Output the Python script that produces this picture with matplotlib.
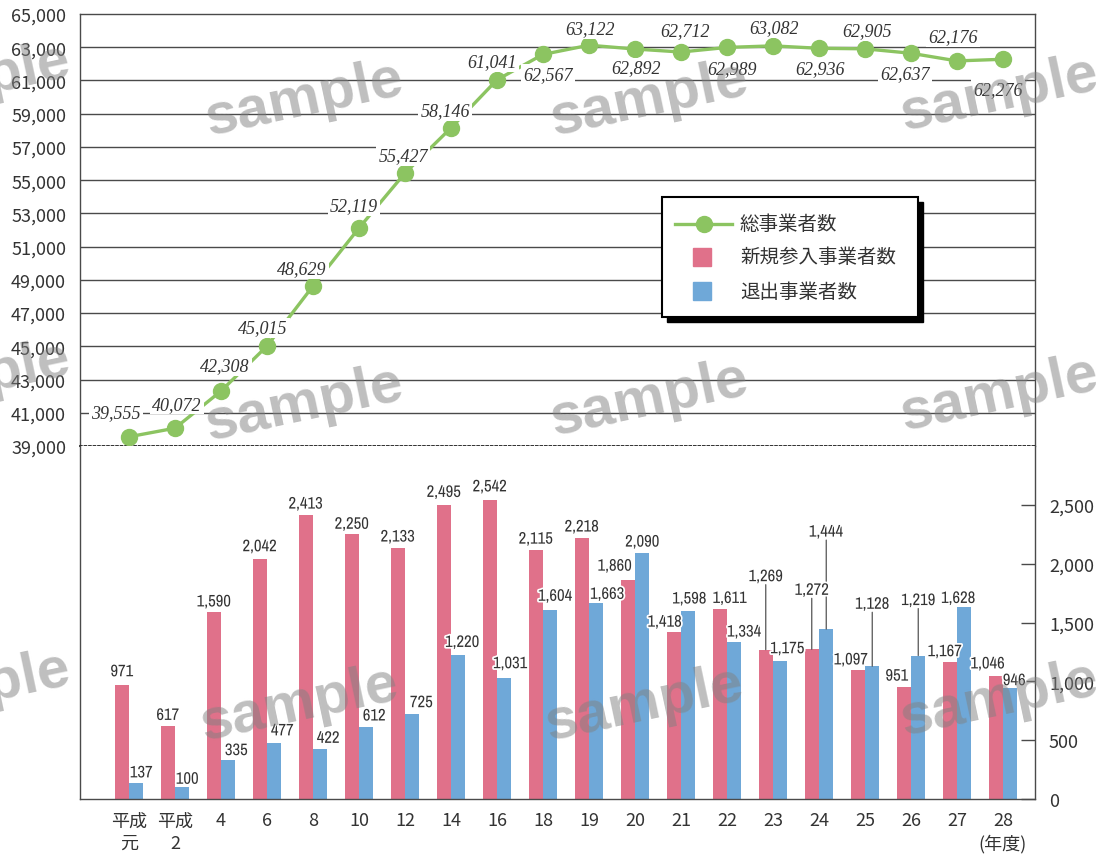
import matplotlib
matplotlib.use("Agg")
import matplotlib.pyplot as plt
import matplotlib.patches as mpatches
import matplotlib.lines as mlines
import matplotlib.patheffects as pe
from matplotlib import font_manager as fm

# ---- data ----
categories = ["平成\n元", "平成\n2", "4", "6", "8", "10", "12", "14", "16", "18",
              "19", "20", "21", "22", "23", "24", "25", "26", "27", "28\n(年度)"]
total_operators = [39555, 40072, 42308, 45015, 48629, 52119, 55427, 58146, 61041, 62567,
                   63122, 62892, 62712, 62989, 63082, 62936, 62905, 62637, 62176, 62276]
new_entrants = [971, 617, 1590, 2042, 2413, 2250, 2133, 2495, 2542, 2115,
                2218, 1860, 1418, 1611, 1269, 1272, 1097, 951, 1167, 1046]
exits = [137, 100, 335, 477, 422, 612, 725, 1220, 1031, 1604,
         1663, 2090, 1598, 1334, 1175, 1444, 1128, 1219, 1628, 946]

series_names = ["総事業者数", "新規参入事業者数", "退出事業者数"]
left_ticks = list(range(39000, 65001, 2000))
right_ticks = list(range(0, 2501, 500))

# ---- label placement (pixel offsets from each mark) ----
total_label_offsets = [(-13, 24), (2, 24), (4, 25), (-4, 18), (-11, 17), (-5, 22), (-2, 17),
                       (-6, 17), (-5, 18), (5, -20), (1, 17), (1, -19), (4, 21), (5, -21),
                       (1, 18), (1, -20), (2, 18), (-6, -20), (-4, 24), (-5, -30)]
new_label_offsets = [(0, 13), (0, 11), (0, 10), (0, 12), (0, 11), (0, 10), (0, 11), (0, 13),
                     (0, 13), (0, 11), (0, 11), (-13, 14), (-9, 10), (10, 11), (0, 73),
                     (0, 59), (-7, 10), (-7, 11), (-5, 10), (-8, 12)]
exit_label_offsets = [(5, 10), (5, 8), (8, 9), (8, 12), (8, 11), (8, 11), (9, 11), (4, 13),
                      (6, 14), (5, 14), (11, 9), (0, 11), (1, 12), (10, 10), (7, 12),
                      (0, 97), (0, 62), (0, 55), (-6, 9), (4, 7)]
new_leaders = {14, 15}
exit_leaders = {15, 16, 17}

# ---- style ----
W, H = 1096, 862
GREEN = "#8CC461"
RED = "#E0718A"
BLUE = "#6FA8D8"
AXIS = "#4a4a4a"
CJK = "Noto Sans CJK JP"
SERIF = "Liberation Serif"


def narrow_font():
    """Pick a condensed face for the bar value labels if one is installed."""
    for f in fm.fontManager.ttflist:
        name = f.name.lower()
        if ("narrow" in name or "condensed" in name) and f.style == "normal" \
                and f.weight in (400, "normal", "regular"):
            return fm.FontProperties(fname=f.fname, size=12)
    for f in fm.fontManager.ttflist:
        if f.stretch in ("condensed", "semi-condensed", "extra-condensed") \
                and f.style == "normal" and f.weight in (400, "normal", "regular"):
            return fm.FontProperties(fname=f.fname, size=12)
    return fm.FontProperties(family="Liberation Sans", size=10.5)


BAR_FONT = narrow_font()

plt.rcParams["font.family"] = [CJK, "DejaVu Sans"]

fig = plt.figure(figsize=(W / 100, H / 100), dpi=100)


def fx(px):
    return px / W


def fy(py):
    return 1 - py / H


left, right = 80, 1035
ax_top = fig.add_axes([fx(left), fy(447), fx(right - left), fy(15) - fy(447)])
ax_bot = fig.add_axes([fx(left), fy(800), fx(right - left), fy(447) - fy(800)], sharex=ax_top)

x = list(range(len(categories)))
xlim = ((80 - 129) / 46, (1035 - 129) / 46)

# ---- top panel: total operators ----
ax_top.set_xlim(*xlim)
ax_top.set_ylim(39000, 65000)
ax_top.set_yticks(left_ticks)
ax_top.set_yticklabels([f"{t:,}" for t in left_ticks])
ax_top.tick_params(axis="y", length=0, pad=10, labelsize=13, colors="#333333")
ax_top.tick_params(axis="x", bottom=False, labelbottom=False)
ax_top.yaxis.grid(True, color=AXIS, lw=1.0)
gl = ax_top.get_ygridlines()
gl[0].set_visible(False)
gl[-1].set_visible(False)
for s in ("left", "right", "top"):
    ax_top.spines[s].set_color(AXIS)
    ax_top.spines[s].set_linewidth(1.0)
ax_top.spines["bottom"].set_color("#222222")
ax_top.spines["bottom"].set_linestyle((0, (1, 1.5)))
ax_top.spines["bottom"].set_linewidth(1.3)

ax_top.plot(x, total_operators, color=GREEN, lw=2.4, marker="o", markersize=11.5,
            markerfacecolor=GREEN, markeredgecolor=GREEN, zorder=3)
for i, v in enumerate(total_operators):
    dx, dy = total_label_offsets[i]
    ax_top.annotate(f"{v:,}", (i, v), xytext=(dx, dy), textcoords="offset pixels",
                    ha="center", va="center", fontsize=13, fontstyle="italic",
                    family=SERIF, color="#333333", zorder=4,
                    bbox=dict(boxstyle="square,pad=0.1", fc="white", ec="none"))

# ---- bottom panel: entrants / exits ----
bw = 0.315
ax_bot.set_ylim(0, 3000)
ax_bot.bar([i - bw / 2 for i in x], new_entrants, width=bw, color=RED, zorder=2)
ax_bot.bar([i + bw / 2 for i in x], exits, width=bw, color=BLUE, zorder=2)

halo = [pe.withStroke(linewidth=2.5, foreground="white")]


def bar_labels(values, shift, offsets, leaders):
    for i, v in enumerate(values):
        dx, dy = offsets[i]
        ax_bot.annotate(f"{v:,}", (i + shift, v), xytext=(dx, dy), textcoords="offset pixels",
                        ha="center", va="center", fontproperties=BAR_FONT,
                        color="#333333", zorder=5, path_effects=halo)
        if i in leaders:
            ax_bot.annotate("", xy=(i + shift, v), xytext=(dx, dy - 8),
                            textcoords="offset pixels",
                            arrowprops=dict(arrowstyle="-", color="#555555", lw=0.9,
                                            shrinkA=0, shrinkB=0), zorder=4)


bar_labels(new_entrants, -bw / 2, new_label_offsets, new_leaders)
bar_labels(exits, bw / 2, exit_label_offsets, exit_leaders)

ax_bot.yaxis.tick_right()
ax_bot.set_yticks(right_ticks)
ax_bot.set_yticklabels([f"{t:,}" for t in right_ticks])
ax_bot.tick_params(axis="y", direction="in", length=10, width=1.0, color=AXIS,
                   pad=10, labelsize=13, labelcolor="#333333")
ax_bot.set_xticks(x)
ax_bot.set_xticklabels(categories, linespacing=1.3)
ax_bot.tick_params(axis="x", length=0, pad=9, labelsize=13, labelcolor="#333333")
ax_bot.spines["top"].set_visible(False)
for s in ("left", "right", "bottom"):
    ax_bot.spines[s].set_color(AXIS)
    ax_bot.spines[s].set_linewidth(1.0)

# ---- legend box with solid drop shadow ----
bx0, by0, bx1, by1 = 662, 198, 918, 318
fig.add_artist(mpatches.Rectangle((fx(bx0 + 5), fy(by1 + 5)), fx(bx1 - bx0), fy(by0) - fy(by1),
                                  transform=fig.transFigure, fc="black", ec="black", zorder=20))
fig.add_artist(mpatches.Rectangle((fx(bx0), fy(by1)), fx(bx1 - bx0), fy(by0) - fy(by1),
                                  transform=fig.transFigure, fc="white", ec="black", lw=1.5,
                                  zorder=21))
fig.add_artist(mlines.Line2D([fx(675), fx(732)], [fy(225), fy(225)], transform=fig.transFigure,
                             color=GREEN, lw=2.4, zorder=22))
fig.add_artist(mlines.Line2D([fx(704)], [fy(225)], transform=fig.transFigure, marker="o",
                             markersize=11.5, color=GREEN, lw=0, zorder=23))
fig.add_artist(mlines.Line2D([fx(702)], [fy(258)], transform=fig.transFigure, marker="s",
                             markersize=13.5, color=RED, lw=0, zorder=23))
fig.add_artist(mlines.Line2D([fx(702)], [fy(292)], transform=fig.transFigure, marker="s",
                             markersize=13.5, color=BLUE, lw=0, zorder=23))
for name, ypx in zip(series_names, (225, 258, 292)):
    fig.text(fx(740), fy(ypx), name, ha="left", va="center", fontsize=14,
             color="#333333", zorder=24)

# ---- watermark ----
marks = [(-28, 82), (305, 100), (650, 100), (1000, 95),
         (-28, 380), (305, 405), (650, 400), (1000, 395),
         (-28, 690), (300, 705), (645, 705), (1000, 700)]
for mx, my in marks:
    fig.text(fx(mx), fy(my), "sample", ha="center", va="center", rotation=12,
             fontsize=42, fontweight="bold", family="Liberation Sans",
             color="#808080", alpha=0.5, zorder=100)

fig.savefig("out.png", dpi=100)
